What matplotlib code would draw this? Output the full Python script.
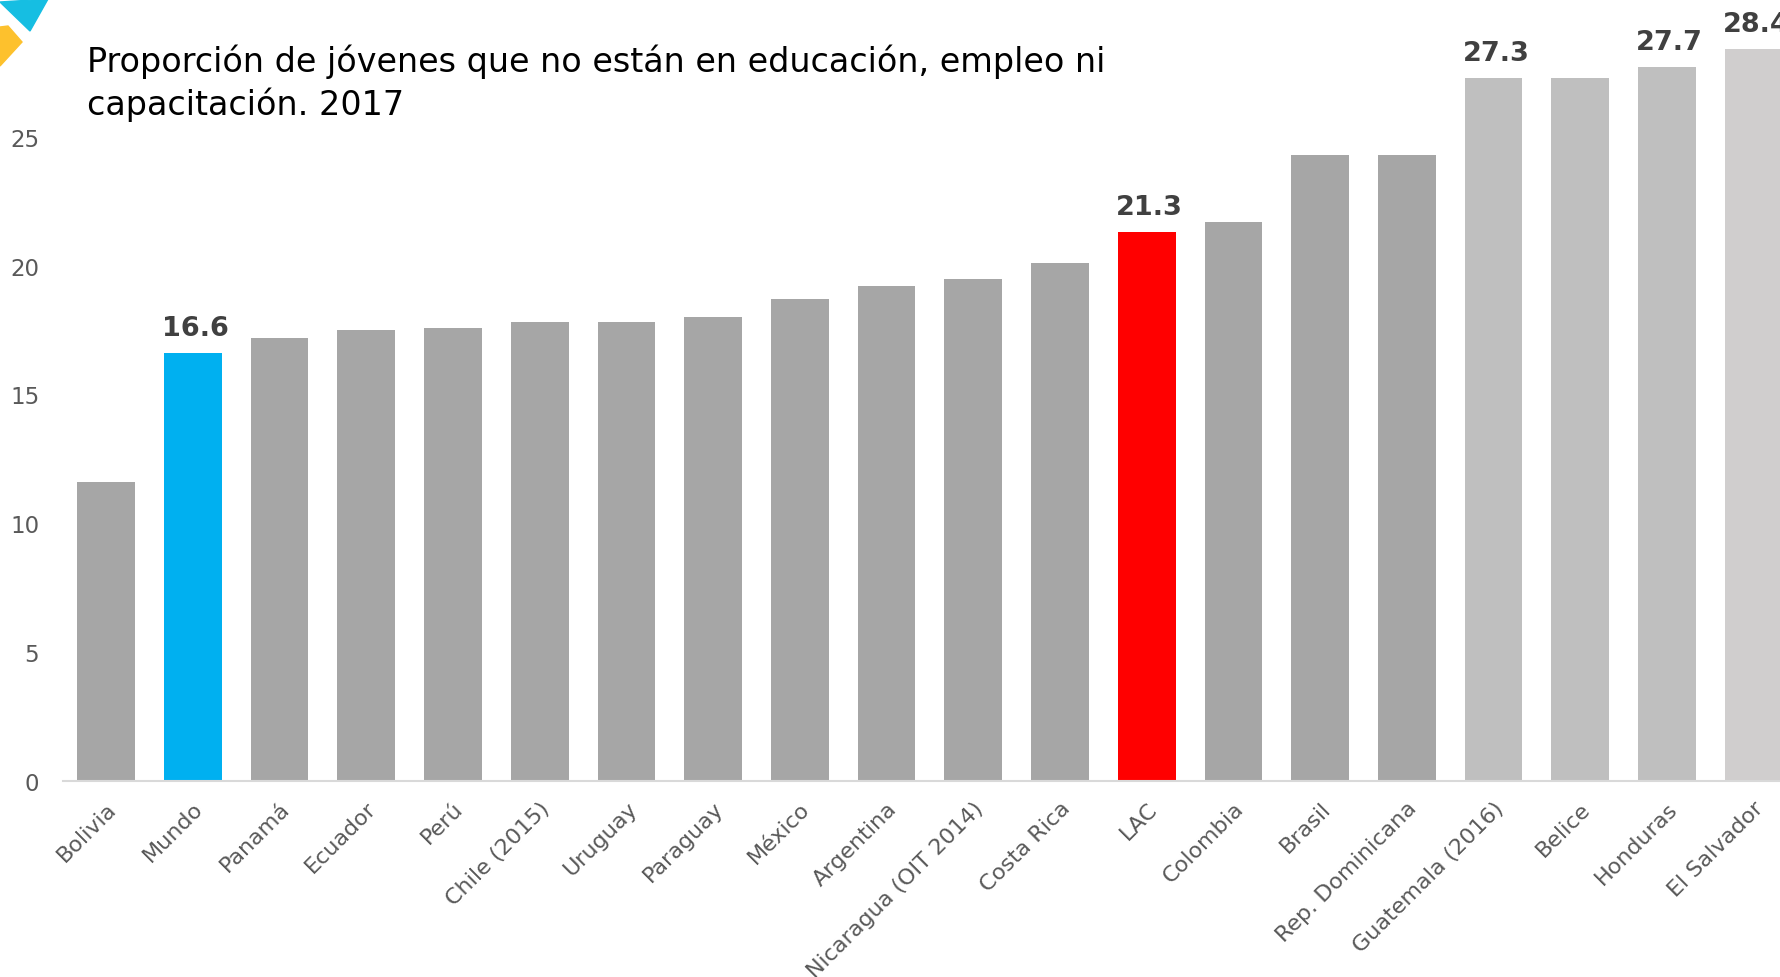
import matplotlib
matplotlib.use("Agg")
import matplotlib.pyplot as plt
from matplotlib.patches import Polygon

plt.rcParams['font.family'] = ['DejaVu Sans']

# datos
paises = ['Bolivia', 'Mundo', 'Panamá', 'Ecuador', 'Perú', 'Chile (2015)', 'Uruguay',
          'Paraguay', 'México', 'Argentina', 'Nicaragua (OIT 2014)', 'Costa Rica', 'LAC',
          'Colombia', 'Brasil', 'Rep. Dominicana', 'Guatemala (2016)', 'Belice',
          'Honduras', 'El Salvador']
valores = [11.6, 16.6, 17.2, 17.5, 17.6, 17.8, 17.8, 18.0, 18.7, 19.2, 19.5, 20.1, 21.3,
           21.7, 24.3, 24.3, 27.3, 27.3, 27.7, 28.4]
etiquetados = ['Mundo', 'LAC', 'Guatemala (2016)', 'Honduras', 'El Salvador']

colores = []
for p in paises:
    if p == 'Mundo':
        colores.append('#00B0F0')
    elif p == 'LAC':
        colores.append('#FF0000')
    elif p in ('Guatemala (2016)', 'Belice', 'Honduras'):
        colores.append('#BFBFBF')
    elif p == 'El Salvador':
        colores.append('#D0CECE')
    else:
        colores.append('#A6A6A6')

W, H = 1781, 978
fig = plt.figure(figsize=(W / 100, H / 100), dpi=100)
ax = fig.add_axes([62.8 / W, 196 / H, (1797 - 62.8) / W, 773 / H])

x = list(range(len(paises)))
ax.bar(x, valores, width=0.665, color=colores, zorder=2)

for xx, p, v in zip(x, paises, valores):
    if p in etiquetados:
        ax.annotate(format(v, '.1f'), (xx, v), xytext=(2, 13), textcoords='offset points',
                    ha='center', va='baseline', fontsize=19.5, fontweight='bold',
                    color='#404040', annotation_clip=False)

ax.set_xlim(-0.5, len(paises) - 0.5)
ax.set_ylim(0, 30)
ax.set_yticks([0, 5, 10, 15, 20, 25])
ax.set_xticks(x)
ax.set_xticklabels(paises, rotation=45, ha='right', rotation_mode='anchor')
ax.tick_params(axis='y', length=0, pad=17, labelsize=16.5, labelcolor='#595959')
ax.tick_params(axis='x', length=0, pad=12, labelsize=16, labelcolor='#595959')
for s in ['top', 'right', 'left']:
    ax.spines[s].set_visible(False)
ax.spines['bottom'].set_color('#D9D9D9')
ax.spines['bottom'].set_linewidth(1.5)

fig.text(87 / W, 1 - 115 / H,
         'Proporción de jóvenes que no están en educación, empleo ni\ncapacitación. 2017',
         fontsize=24, color='black', ha='left', va='baseline', linespacing=1.3)

# logo en la esquina
def px(pts):
    return [(a / W, 1 - b / H) for a, b in pts]

fig.patches.append(Polygon(px([(0, 3), (48, 0), (30, 32)]), closed=True,
                           transform=fig.transFigure, color='#16BEE2'))
fig.patches.append(Polygon(px([(0, 28), (8, 27), (22, 43), (0, 67)]), closed=True,
                           transform=fig.transFigure, color='#FDC12D'))

plt.savefig('out.png', dpi=100)
